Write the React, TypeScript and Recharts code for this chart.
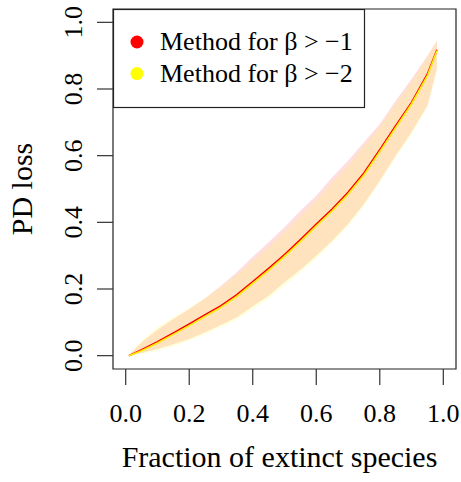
import React from "react";
import {
  ComposedChart,
  Area,
  Line,
  XAxis,
  YAxis,
  Legend,
  ReferenceArea,
} from "recharts";

// fraction of extinct species
const fraction = [0.01, 0.05, 0.1, 0.15, 0.2, 0.25, 0.3, 0.35, 0.4, 0.45, 0.5, 0.55, 0.6, 0.65, 0.7, 0.75, 0.8, 0.85, 0.9, 0.95, 0.98];

// method for beta > -1
const meanB1 = [0.0, 0.018, 0.042, 0.068, 0.095, 0.123, 0.15, 0.183, 0.222, 0.262, 0.303, 0.348, 0.395, 0.44, 0.49, 0.548, 0.618, 0.69, 0.76, 0.845, 0.918];
const lowB1 = [0.0, 0.008, 0.02, 0.034, 0.05, 0.07, 0.092, 0.115, 0.148, 0.18, 0.22, 0.258, 0.3, 0.345, 0.395, 0.455, 0.525, 0.6, 0.67, 0.75, 0.86];
const highB1 = [0.002, 0.04, 0.078, 0.11, 0.14, 0.172, 0.21, 0.25, 0.297, 0.34, 0.385, 0.435, 0.48, 0.535, 0.585, 0.64, 0.695, 0.765, 0.83, 0.9, 0.945];

// method for beta > -2
const meanB2 = [0.0, 0.015, 0.038, 0.064, 0.09, 0.118, 0.145, 0.178, 0.217, 0.256, 0.298, 0.342, 0.389, 0.434, 0.484, 0.542, 0.612, 0.684, 0.755, 0.84, 0.915];
const lowB2 = [0.0, 0.005, 0.015, 0.028, 0.045, 0.064, 0.085, 0.108, 0.14, 0.172, 0.21, 0.25, 0.292, 0.338, 0.388, 0.448, 0.52, 0.595, 0.665, 0.745, 0.855];
const highB2 = [0.003, 0.045, 0.085, 0.115, 0.143, 0.172, 0.205, 0.242, 0.285, 0.325, 0.37, 0.418, 0.465, 0.52, 0.57, 0.628, 0.685, 0.755, 0.82, 0.895, 0.94];

const ticks = [0, 0.2, 0.4, 0.6, 0.8, 1.0];

const legendItems = [
  { label: "Method for β > −1", color: "#ff0000" },
  { label: "Method for β > −2", color: "#ffff00" },
];

const data = fraction.map((x, i) => ({
  x,
  m1: meanB1[i],
  r1: [lowB1[i], highB1[i]],
  m2: meanB2[i],
  r2: [lowB2[i], highB2[i]],
}));

const FONT = "'Liberation Serif', 'Times New Roman', serif";

function XTick({ x, y, payload }: any) {
  return (
    <text x={x} y={y + 35} textAnchor="middle" fontSize={26} fontFamily={FONT} fill="#000">
      {Number(payload.value).toFixed(1)}
    </text>
  );
}

function YTick({ x, y, payload }: any) {
  const bx = x - 13;
  return (
    <text
      x={bx}
      y={y}
      transform={`rotate(-90, ${bx}, ${y})`}
      textAnchor="middle"
      fontSize={26}
      fontFamily={FONT}
      fill="#000"
    >
      {Number(payload.value).toFixed(1)}
    </text>
  );
}

function LegendBox() {
  return (
    <svg width={253} height={100} style={{ display: "block" }}>
      <rect x={0.5} y={0.5} width={251} height={98} fill="#fff" stroke="#222" strokeWidth={1.2} />
      {legendItems.map((it, i) => (
        <g key={it.label}>
          <circle cx={24} cy={33 + i * 31.6} r={6.5} fill={it.color} />
          <text x={47} y={41 + i * 31.6} fontSize={26} fontFamily={FONT} fill="#000">
            {it.label}
          </text>
        </g>
      ))}
    </svg>
  );
}

export default function App() {
  return (
    <div style={{ position: "absolute", left: 0, top: 0, background: "#fff" }}>
      <ComposedChart width={461} height={482} data={data} margin={{ top: 9, right: 5, bottom: 0, left: 0 }}>
        <XAxis
          dataKey="x"
          type="number"
          domain={[-0.04, 1.04]}
          ticks={ticks}
          allowDataOverflow
          axisLine={false}
          tickSize={16}
          tickLine={{ stroke: "#333", strokeWidth: 1.2 }}
          tick={<XTick />}
          height={113}
          label={{
            content: ({ viewBox }: any) => (
              <text
                x={viewBox.x + viewBox.width / 2 - 5}
                y={viewBox.y + 98}
                textAnchor="middle"
                fontSize={30}
                fontFamily={FONT}
                fill="#000"
              >
                Fraction of extinct species
              </text>
            ),
          }}
        />
        <YAxis
          type="number"
          domain={[-0.04, 1.04]}
          ticks={ticks}
          allowDataOverflow
          axisLine={false}
          tickSize={16}
          tickLine={{ stroke: "#333", strokeWidth: 1.2 }}
          tick={<YTick />}
          width={113}
          label={{
            content: ({ viewBox }: any) => {
              const cx = 32;
              const cy = viewBox.y + viewBox.height / 2;
              return (
                <text
                  x={cx}
                  y={cy}
                  transform={`rotate(-90, ${cx}, ${cy})`}
                  textAnchor="middle"
                  fontSize={30}
                  fontFamily={FONT}
                  fill="#000"
                >
                  PD loss
                </text>
              );
            },
          }}
        />
        <Area dataKey="r1" type="linear" stroke="none" fill="#ff0000" fillOpacity={0.13} isAnimationActive={false} />
        <Area dataKey="r2" type="linear" stroke="none" fill="#ffff00" fillOpacity={0.14} isAnimationActive={false} />
        <Line dataKey="m1" type="linear" stroke="#ff0000" strokeWidth={1.6} dot={false} isAnimationActive={false} />
        <Line dataKey="m2" type="linear" stroke="#ffee00" strokeWidth={1.6} dot={false} isAnimationActive={false} />
        <ReferenceArea
          x1={-0.04}
          x2={1.04}
          y1={-0.04}
          y2={1.04}
          fill="none"
          stroke="#222"
          strokeWidth={1.2}
        />
        <Legend
          layout="horizontal"
          verticalAlign="middle"
          align="center"
          wrapperStyle={{ left: 113, top: 9, width: 253, height: 100 }}
          content={() => <LegendBox />}
        />
      </ComposedChart>
    </div>
  );
}
